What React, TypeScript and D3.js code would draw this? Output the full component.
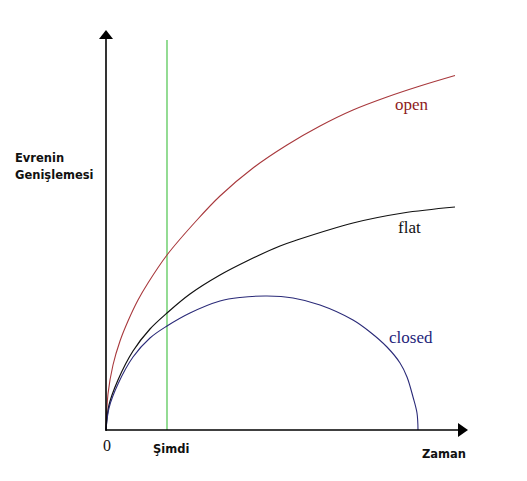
import React from "react";
import * as d3 from "d3";

// time (t) and scale factor (a) in abstract units
const openT = [0, 0.055, 0.193, 0.387, 0.608, 0.884, 1.16, 1.685, 2.514, 3.149, 4.061, 5.0, 5.912, 6.823, 7.762, 8.674, 9.641];
const openA = [0, 0.9, 1.625, 2.225, 2.725, 3.25, 3.675, 4.375, 5.25, 5.85, 6.55, 7.125, 7.6, 8.0, 8.325, 8.6, 8.8625];

const flatT = [0, 0.083, 0.331, 0.746, 1.215, 1.685, 2.32, 3.149, 3.895, 4.807, 5.276, 6.823, 8.204, 9.641];
const flatA = [0, 0.625, 1.25, 1.975, 2.525, 2.925, 3.4, 3.875, 4.225, 4.6, 4.75, 5.175, 5.425, 5.575];

const closedT = [0, 0.083, 0.331, 0.746, 1.215, 1.685, 2.32, 3.149, 3.702, 4.448, 5.166, 5.912, 6.823, 7.293, 7.762, 8.122, 8.315, 8.481, 8.591, 8.619];
const closedA = [0, 0.55, 1.15, 1.825, 2.3, 2.6, 2.925, 3.225, 3.3125, 3.35, 3.3, 3.125, 2.75, 2.45, 2.075, 1.675, 1.325, 0.825, 0.425, 0];

const nowT = 1.685;

const W = 527;
const H = 481;

export default function App() {
  const x = d3.scaleLinear().domain([0, 10]).range([106, 468]);
  const y = d3.scaleLinear().domain([0, 10]).range([430, 30]);
  const line = d3
    .line<[number, number]>()
    .x((d) => x(d[0]))
    .y((d) => y(d[1]))
    .curve(d3.curveCatmullRom.alpha(0.5));
  const zip = (ts: number[], as: number[]) => ts.map((t, i) => [t, as[i]] as [number, number]);

  const ox = x(0);
  const oy = y(0);
  const xEnd = x(10);
  const yEnd = y(10);
  const sans = "'DejaVu Sans', Verdana, sans-serif";
  const serif = "'Liberation Serif', 'Times New Roman', serif";

  return (
    <svg
      width={W}
      height={H}
      style={{ position: "absolute", left: 0, top: 0, background: "#fff" }}
    >
      {/* now line */}
      <line x1={x(nowT)} x2={x(nowT)} y1={y(9.75)} y2={oy} stroke="#4cc44c" strokeWidth={1.2} />
      {/* curves */}
      <path d={line(zip(openT, openA)) || ""} fill="none" stroke="#a8383c" strokeWidth={1.1} />
      <path d={line(zip(flatT, flatA)) || ""} fill="none" stroke="#111" strokeWidth={1.2} />
      <path d={line(zip(closedT, closedA)) || ""} fill="none" stroke="#2a2a78" strokeWidth={1.1} />
      {/* axes */}
      <line x1={ox} x2={ox} y1={oy + 1} y2={yEnd + 8} stroke="#000" strokeWidth={1.6} />
      <line x1={ox} x2={xEnd - 8} y1={oy} y2={oy} stroke="#000" strokeWidth={1.6} />
      <path d={`M${ox},${yEnd} L${ox - 7},${yEnd + 9} L${ox + 7},${yEnd + 9} Z`} fill="#000" />
      <path d={`M${xEnd},${oy} L${xEnd - 10},${oy - 7} L${xEnd - 10},${oy + 7} Z`} fill="#000" />
      {/* labels */}
      <text x={15} y={162} fontFamily={sans} fontWeight="bold" fontSize={11.5} fill="#111">Evrenin</text>
      <text x={15} y={179} fontFamily={sans} fontWeight="bold" fontSize={11.5} fill="#111">Genişlemesi</text>
      <text x={107} y={451} fontFamily={serif} fontSize={16} textAnchor="middle" fill="#111">0</text>
      <text x={153} y={453} fontFamily={sans} fontWeight="bold" fontSize={11.5} fill="#111">Şimdi</text>
      <text x={422} y={458} fontFamily={sans} fontWeight="bold" fontSize={11.5} fill="#111">Zaman</text>
      <text x={395} y={110} fontFamily={serif} fontSize={17} fill="#8e1c22">open</text>
      <text x={398} y={233} fontFamily={serif} fontSize={17} fill="#111">flat</text>
      <text x={389} y={343} fontFamily={serif} fontSize={17} fill="#1e1e7a">closed</text>
    </svg>
  );
}
